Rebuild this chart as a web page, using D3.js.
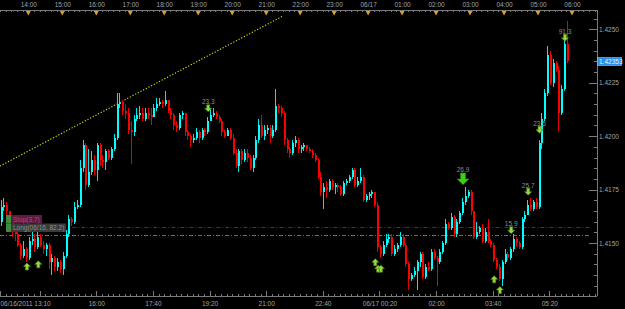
<!DOCTYPE html>
<html>
<head>
<meta charset="utf-8">
<script src="https://cdn.jsdelivr.net/npm/d3@7"></script>
<style>
  body { margin: 0; background: #000; }
  svg { display: block; }
</style>
</head>
<body>
<svg id="chart"></svg>
<script>
// 5-minute bars, 06/16/2011 13:10 -> 06/17/2011 06:00
const startStamp = "2011-06-16 13:10";
const barMinutes = 5;

const opens = [
  1.4160,1.4167,1.4168,1.4165,1.4160,1.4155,1.4154,1.4149,1.4144,1.4147,
  1.4143,1.4151,1.4152,1.4148,1.4153,1.4149,1.4147,1.4149,1.4141,1.4143,
  1.4139,1.4141,1.4138,1.4144,1.4154,1.4161,1.4160,1.4167,1.4168,1.4185,
  1.4196,1.4177,1.4183,1.4189,1.4184,1.4196,1.4189,1.4188,1.4193,1.4190,
  1.4194,1.4199,1.4215,1.4216,1.4212,1.4211,1.4203,1.4202,1.4208,1.4210,
  1.4211,1.4208,1.4211,1.4210,1.4209,1.4213,1.4215,1.4216,1.4215,1.4217,
  1.4212,1.4210,1.4205,1.4204,1.4210,1.4211,1.4202,1.4200,1.4198,1.4199,
  1.4202,1.4199,1.4203,1.4202,1.4207,1.4210,1.4211,1.4209,1.4207,1.4202,
  1.4200,1.4203,1.4199,1.4192,1.4186,1.4193,1.4189,1.4192,1.4190,1.4185,
  1.4190,1.4198,1.4205,1.4200,1.4203,1.4204,1.4200,1.4203,1.4214,1.4213,
  1.4211,1.4198,1.4194,1.4192,1.4197,1.4198,1.4194,1.4195,1.4196,1.4194,
  1.4193,1.4191,1.4189,1.4181,1.4174,1.4176,1.4175,1.4179,1.4176,1.4177,
  1.4176,1.4173,1.4178,1.4179,1.4181,1.4184,1.4177,1.4179,1.4181,1.4170,
  1.4172,1.4173,1.4174,1.4168,1.4148,1.4145,1.4149,1.4152,1.4153,1.4145,
  1.4147,1.4149,1.4153,1.4149,1.4140,1.4133,1.4135,1.4137,1.4141,1.4145,
  1.4134,1.4139,1.4138,1.4146,1.4143,1.4141,1.4146,1.4150,1.4159,1.4157,
  1.4162,1.4154,1.4160,1.4164,1.4169,1.4172,1.4174,1.4165,1.4153,1.4155,
  1.4157,1.4151,1.4155,1.4151,1.4149,1.4142,1.4139,1.4133,1.4141,1.4145,
  1.4143,1.4147,1.4152,1.4150,1.4148,1.4161,1.4163,1.4168,1.4166,1.4169,
  1.4167,1.4197,1.4208,1.4220,1.4238,1.4225,1.4234,1.4231,1.4211,1.4222,
  1.4243
];
const highs = [
  1.4170,1.4171,1.4169,1.4165,1.4161,1.4157,1.4155,1.4150,1.4151,1.4148,
  1.4153,1.4155,1.4154,1.4155,1.4154,1.4151,1.4150,1.4150,1.4145,1.4144,
  1.4143,1.4142,1.4146,1.4156,1.4163,1.4162,1.4169,1.4170,1.4189,1.4198,
  1.4197,1.4194,1.4193,1.4191,1.4197,1.4197,1.4191,1.4194,1.4194,1.4195,
  1.4201,1.4220,1.4220,1.4217,1.4215,1.4213,1.4207,1.4210,1.4213,1.4214,
  1.4213,1.4213,1.4213,1.4213,1.4215,1.4218,1.4218,1.4217,1.4221,1.4217,
  1.4213,1.4211,1.4207,1.4211,1.4212,1.4211,1.4203,1.4201,1.4201,1.4204,
  1.4203,1.4204,1.4204,1.4209,1.4213,1.4213,1.4212,1.4210,1.4208,1.4203,
  1.4204,1.4204,1.4201,1.4194,1.4194,1.4194,1.4194,1.4194,1.4191,1.4191,
  1.4200,1.4208,1.4210,1.4205,1.4205,1.4205,1.4205,1.4222,1.4215,1.4214,
  1.4212,1.4199,1.4195,1.4198,1.4200,1.4199,1.4196,1.4197,1.4196,1.4195,
  1.4194,1.4192,1.4190,1.4183,1.4178,1.4179,1.4180,1.4180,1.4178,1.4178,
  1.4177,1.4179,1.4180,1.4182,1.4185,1.4185,1.4181,1.4185,1.4182,1.4173,
  1.4174,1.4175,1.4174,1.4169,1.4149,1.4151,1.4154,1.4154,1.4154,1.4149,
  1.4150,1.4155,1.4154,1.4150,1.4141,1.4136,1.4139,1.4142,1.4146,1.4146,
  1.4140,1.4141,1.4147,1.4147,1.4144,1.4147,1.4151,1.4161,1.4160,1.4164,
  1.4163,1.4161,1.4165,1.4171,1.4176,1.4175,1.4175,1.4165,1.4160,1.4158,
  1.4159,1.4157,1.4161,1.4152,1.4150,1.4143,1.4140,1.4142,1.4147,1.4146,
  1.4148,1.4154,1.4153,1.4151,1.4162,1.4165,1.4170,1.4171,1.4170,1.4171,
  1.4198,1.4211,1.4222,1.4242,1.4240,1.4236,1.4235,1.4233,1.4224,1.4245,
  1.4254
];
const lows = [
  1.4158,1.4165,1.4163,1.4159,1.4153,1.4151,1.4148,1.4142,1.4143,1.4141,
  1.4142,1.4149,1.4146,1.4147,1.4148,1.4145,1.4144,1.4138,1.4135,1.4137,
  1.4137,1.4136,1.4135,1.4143,1.4153,1.4158,1.4159,1.4166,1.4167,1.4183,
  1.4175,1.4176,1.4182,1.4182,1.4179,1.4186,1.4185,1.4184,1.4189,1.4189,
  1.4193,1.4198,1.4213,1.4210,1.4208,1.4201,1.4187,1.4200,1.4207,1.4208,
  1.4207,1.4207,1.4208,1.4205,1.4209,1.4212,1.4214,1.4213,1.4214,1.4211,
  1.4208,1.4203,1.4202,1.4203,1.4208,1.4200,1.4198,1.4195,1.4197,1.4198,
  1.4197,1.4198,1.4200,1.4201,1.4207,1.4209,1.4208,1.4206,1.4200,1.4199,
  1.4200,1.4198,1.4191,1.4185,1.4183,1.4187,1.4188,1.4188,1.4184,1.4183,
  1.4189,1.4197,1.4199,1.4198,1.4201,1.4197,1.4199,1.4202,1.4211,1.4209,
  1.4196,1.4192,1.4190,1.4191,1.4195,1.4192,1.4192,1.4193,1.4193,1.4192,
  1.4190,1.4188,1.4180,1.4172,1.4166,1.4171,1.4174,1.4175,1.4173,1.4174,
  1.4172,1.4172,1.4177,1.4178,1.4180,1.4176,1.4176,1.4178,1.4169,1.4169,
  1.4170,1.4171,1.4167,1.4146,1.4143,1.4144,1.4148,1.4150,1.4144,1.4144,
  1.4146,1.4148,1.4148,1.4139,1.4128,1.4132,1.4134,1.4128,1.4139,1.4133,
  1.4133,1.4137,1.4137,1.4142,1.4130,1.4140,1.4145,1.4149,1.4156,1.4156,
  1.4153,1.4153,1.4159,1.4163,1.4168,1.4171,1.4163,1.4152,1.4152,1.4154,
  1.4150,1.4150,1.4150,1.4148,1.4141,1.4138,1.4132,1.4130,1.4140,1.4142,
  1.4142,1.4146,1.4148,1.4147,1.4147,1.4160,1.4163,1.4165,1.4165,1.4166,
  1.4166,1.4194,1.4207,1.4219,1.4224,1.4223,1.4230,1.4202,1.4210,1.4221,
  1.4234
];
const closes = [
  1.4167,1.4168,1.4165,1.4160,1.4155,1.4154,1.4149,1.4144,1.4147,1.4143,
  1.4151,1.4152,1.4148,1.4153,1.4149,1.4147,1.4149,1.4141,1.4143,1.4139,
  1.4141,1.4138,1.4144,1.4154,1.4161,1.4160,1.4167,1.4168,1.4185,1.4196,
  1.4177,1.4183,1.4189,1.4184,1.4196,1.4189,1.4188,1.4193,1.4190,1.4194,
  1.4199,1.4215,1.4216,1.4212,1.4211,1.4203,1.4202,1.4208,1.4210,1.4211,
  1.4208,1.4211,1.4210,1.4209,1.4213,1.4215,1.4216,1.4215,1.4217,1.4212,
  1.4210,1.4205,1.4204,1.4210,1.4211,1.4202,1.4200,1.4198,1.4199,1.4202,
  1.4199,1.4203,1.4202,1.4207,1.4210,1.4211,1.4209,1.4207,1.4202,1.4200,
  1.4203,1.4199,1.4192,1.4186,1.4193,1.4189,1.4192,1.4190,1.4185,1.4190,
  1.4198,1.4205,1.4200,1.4203,1.4204,1.4200,1.4203,1.4214,1.4213,1.4211,
  1.4198,1.4194,1.4192,1.4197,1.4198,1.4194,1.4195,1.4196,1.4194,1.4193,
  1.4191,1.4189,1.4181,1.4174,1.4176,1.4175,1.4179,1.4176,1.4177,1.4176,
  1.4173,1.4178,1.4179,1.4181,1.4184,1.4177,1.4179,1.4181,1.4170,1.4172,
  1.4173,1.4174,1.4168,1.4148,1.4145,1.4149,1.4152,1.4153,1.4145,1.4147,
  1.4149,1.4153,1.4149,1.4140,1.4133,1.4135,1.4137,1.4141,1.4145,1.4134,
  1.4139,1.4138,1.4146,1.4143,1.4141,1.4146,1.4150,1.4159,1.4157,1.4162,
  1.4154,1.4160,1.4164,1.4169,1.4172,1.4174,1.4165,1.4153,1.4155,1.4157,
  1.4151,1.4155,1.4151,1.4149,1.4142,1.4139,1.4133,1.4141,1.4145,1.4143,
  1.4147,1.4152,1.4150,1.4148,1.4161,1.4163,1.4168,1.4166,1.4169,1.4167,
  1.4197,1.4208,1.4220,1.4238,1.4225,1.4234,1.4231,1.4211,1.4222,1.4243,
  1.42353
];

// price axis
const priceLabels = [1.4150, 1.4175, 1.4200, 1.4225, 1.4250];

// bottom axis
const bottomTickStamps = ["2011-06-16 13:10","2011-06-16 14:20","2011-06-16 16:00","2011-06-16 17:40",
  "2011-06-16 19:20","2011-06-16 21:00","2011-06-16 22:40","2011-06-17 00:20","2011-06-17 02:00",
  "2011-06-17 03:40","2011-06-17 05:20"];
const bottomTickLabels = ["06/16/2011 13:10","","16:00","17:40","19:20","21:00","22:40",
  "06/17 00:20","02:00","03:40","05:20"];

// signal arrows (bar index, price, direction, strength label)
const signalBars   = [9, 13, 73, 163, 132, 133, 134, 174, 176, 180, 186, 190, 199];
const signalPrices = [1.4139, 1.4140, 1.4213, 1.4180, 1.4141, 1.4138, 1.4138, 1.4133, 1.4128, 1.4156, 1.4174, 1.4203, 1.4246];
const signalDirs   = ["up","up","down","down","up","up","up","up","up","down","down","down","down"];
const signalLabels = ["","","23.3","26.9","","","","","","15.9","25.7","23.5","91.3"];

// trade lines
const entryPrice = 1.41536;
const stopPrice = 1.41573;
const stopStartBar = 25;
const trendStamps = ["2011-06-16 13:10", "2011-06-16 21:28"];
const trendPrices = [1.4186, 1.4256];

// ---- layout
const width = 625, height = 309;
const plotRight = 597, plotTop = 10, plotBottom = 296;
const font = '"Liberation Sans", Arial, sans-serif';
const axisColor = '#7a7a7a';
const textColor = '#a3a3a3';

const parseTime = d3.timeParse("%Y-%m-%d %H:%M");
const startTime = parseTime(startStamp);

const svg = d3.select('#chart')
    .attr('width', width)
    .attr('height', height)
    .style('background', '#000');

// 34 px per hour
const x = d3.scaleTime()
    .domain([startTime, d3.timeMinute.offset(startTime, 1010)])
    .range([0, 572]);
const xAxisScale = x.copy().domain([startTime, x.invert(plotRight)]).range([0, plotRight]);
const y = d3.scaleLinear().domain([1.4150, 1.4250]).range([243, 29.3]);

const barTime = i => d3.timeMinute.offset(startTime, i * barMinutes);
const xBar = i => x(barTime(i)) + 1.5;

svg.append('clipPath').attr('id', 'plot')
  .append('rect').attr('x', 0).attr('y', plotTop + 1).attr('width', plotRight).attr('height', plotBottom - plotTop - 1);

const plot = svg.append('g').attr('clip-path', 'url(#plot)');

// trade lines
plot.append('line')
    .attr('x1', 0).attr('x2', plotRight - 8)
    .attr('y1', Math.round(y(entryPrice)) + 0.5).attr('y2', Math.round(y(entryPrice)) + 0.5)
    .attr('stroke', '#6e6e6e').attr('stroke-dasharray', '4,2,1,2');
plot.append('line')
    .attr('x1', xBar(stopStartBar)).attr('x2', plotRight - 8)
    .attr('y1', Math.round(y(stopPrice)) + 0.5).attr('y2', Math.round(y(stopPrice)) + 0.5)
    .attr('stroke', '#702438').attr('stroke-dasharray', '4,2,1,2');

// trend line
plot.append('line')
    .attr('x1', x(parseTime(trendStamps[0]))).attr('y1', y(trendPrices[0]))
    .attr('x2', x(parseTime(trendStamps[1]))).attr('y2', y(trendPrices[1]))
    .attr('stroke', '#e6e600').attr('stroke-width', 1.1).attr('stroke-dasharray', '1.2,1.8');

// candles
const bars = d3.range(closes.length);
const candle = plot.append('g').attr('shape-rendering', 'crispEdges')
  .selectAll('g').data(bars).enter().append('g');
candle.append('rect')
    .attr('x', i => Math.round(xBar(i)) - 1)
    .attr('width', 1)
    .attr('y', i => y(highs[i]))
    .attr('height', i => Math.max(1, y(lows[i]) - y(highs[i])))
    .attr('fill', i => closes[i] >= opens[i] ? '#00e8e8' : '#e80000');
candle.append('rect')
    .attr('x', i => Math.round(xBar(i)) - 1)
    .attr('width', 2)
    .attr('y', i => y(Math.max(opens[i], closes[i])))
    .attr('height', i => Math.max(1, Math.abs(y(opens[i]) - y(closes[i]))))
    .attr('fill', i => closes[i] >= opens[i] ? '#00ffff' : '#ff0000');

// signal arrows
const arrowUp = 'M0,-3.5 L3.5,0 L1.5,0 L1.5,3.5 L-1.5,3.5 L-1.5,0 L-3.5,0 Z';
const arrowDown = 'M0,3.5 L3.5,0 L1.5,0 L1.5,-3.5 L-1.5,-3.5 L-1.5,0 L-3.5,0 Z';
signalBars.forEach(function(b, k) {
  const big = signalLabels[k] === '26.9';
  const s = big ? 1.7 : 1;
  const cx = xBar(b), cy = y(signalPrices[k]);
  plot.append('path')
      .attr('d', signalDirs[k] === 'up' ? arrowUp : arrowDown)
      .attr('transform', 'translate(' + cx + ',' + cy + ') scale(' + s + ')')
      .attr('fill', big ? '#3ccf12' : '#94d83c')
      .attr('stroke', big ? '#1e7a08' : '#4f8a1c')
      .attr('stroke-width', 0.6 / s);
  if (signalLabels[k]) {
    plot.append('text')
        .attr('x', cx).attr('y', cy - (big ? 6.5 : 4.2))
        .attr('text-anchor', 'middle')
        .attr('fill', '#8e8e8e')
        .style('font', '6.5px ' + font)
        .text(signalLabels[k]);
  }
});

// trade tags
const tags = [
  {text: 'Stop(3.7)', y: 215, w: 31, bg: '#5c1c3e', fg: '#b4467e'},
  {text: 'Long(06/16, 82.2)', y: 223.5, w: 55, bg: '#3a3a3a', fg: '#909090'}
];
tags.forEach(function(t) {
  svg.append('rect').attr('x', 6).attr('y', t.y).attr('width', 5).attr('height', 8.5).attr('fill', '#3f8a3f');
  svg.append('rect').attr('x', 11).attr('y', t.y).attr('width', t.w).attr('height', 8.5).attr('fill', t.bg);
  svg.append('text').attr('x', 13).attr('y', t.y + 6.6)
      .attr('fill', t.fg).style('font', '6.5px ' + font).text(t.text);
});

// frame lines
svg.append('g').attr('stroke', axisColor).attr('shape-rendering', 'crispEdges')
  .call(g => {
    g.append('line').attr('x1', 0).attr('x2', plotRight).attr('y1', plotTop + 0.5).attr('y2', plotTop + 0.5);
    g.append('line').attr('x1', 0).attr('x2', plotRight).attr('y1', plotBottom + 0.5).attr('y2', plotBottom + 0.5);
    g.append('line').attr('x1', plotRight + 0.5).attr('x2', plotRight + 0.5).attr('y1', plotTop).attr('y2', plotBottom);
  });

function styleAxis(g) {
  g.select('.domain').remove();
  g.selectAll('line').attr('stroke', axisColor).attr('shape-rendering', 'crispEdges');
  g.selectAll('text').attr('fill', textColor).style('font', '6.5px ' + font);
}

// top time axis
svg.append('g').attr('transform', 'translate(0,' + plotTop + ')')
    .call(d3.axisBottom(xAxisScale).ticks(d3.timeMinute.every(10)).tickSize(2).tickFormat(''))
    .call(styleAxis);
svg.append('g').attr('transform', 'translate(0,' + plotTop + ')')
    .call(d3.axisTop(xAxisScale).ticks(d3.timeHour.every(1)).tickSize(0).tickPadding(3)
      .tickFormat(d => d.getHours() === 0 ? d3.timeFormat('%m/%d')(d) : d3.timeFormat('%H:%M')(d)))
    .call(styleAxis);
svg.append('g').selectAll('path')
    .data(xAxisScale.ticks(d3.timeHour.every(1)))
    .enter().append('path')
    .attr('d', d => 'M' + (x(d) - 2.5) + ',' + (plotTop + 1) + ' L' + (x(d) + 2.5) + ',' + (plotTop + 1) + ' L' + x(d) + ',' + (plotTop + 5.5) + ' Z')
    .attr('fill', '#e0a018');

// bottom time axis
const bottomTicks = bottomTickStamps.map(parseTime);
svg.append('g').attr('transform', 'translate(0,' + plotBottom + ')')
    .call(d3.axisBottom(xAxisScale).ticks(d3.timeMinute.every(10)).tickSize(-2).tickFormat(''))
    .call(styleAxis);
svg.append('g').attr('transform', 'translate(0,' + plotBottom + ')')
    .call(d3.axisBottom(xAxisScale).tickValues(bottomTicks).tickSize(-5).tickFormat(''))
    .call(styleAxis);
svg.append('g').attr('transform', 'translate(0,' + plotBottom + ')')
    .call(d3.axisBottom(xAxisScale).tickValues(bottomTicks).tickSize(0).tickPadding(5)
      .tickFormat((d, i) => bottomTickLabels[i]))
    .call(styleAxis)
    .call(g => g.selectAll('.tick').filter((d, i) => i === 0).select('text').attr('text-anchor', 'start'));

// right price axis
const minorPrices = d3.range(1.4130, 1.42551, 0.0005);
svg.append('g').attr('transform', 'translate(' + plotRight + ',0)')
    .call(d3.axisLeft(y).tickValues(minorPrices).tickSize(3).tickFormat(''))
    .call(styleAxis);
svg.append('g').attr('transform', 'translate(' + plotRight + ',0)')
    .call(d3.axisLeft(y).tickValues(priceLabels).tickSize(8).tickFormat(''))
    .call(styleAxis);
svg.append('g').attr('transform', 'translate(' + plotRight + ',0)')
    .call(d3.axisRight(y).tickValues(priceLabels).tickSize(0).tickPadding(2).tickFormat(d3.format('.4f')))
    .call(styleAxis);

// current price tag
const last = closes[closes.length - 1];
const lastY = Math.round(y(last));
svg.append('rect')
    .attr('x', plotRight + 0.5).attr('y', lastY - 3.5).attr('width', 24).attr('height', 8)
    .attr('fill', '#2f8de6').attr('stroke', '#8cc8ff').attr('stroke-width', 0.6);
svg.append('text')
    .attr('x', plotRight + 2).attr('y', lastY + 2.8)
    .attr('fill', '#e6f2ff').style('font', '6.5px ' + font)
    .text(d3.format('.5f')(last));
</script>
</body>
</html>
